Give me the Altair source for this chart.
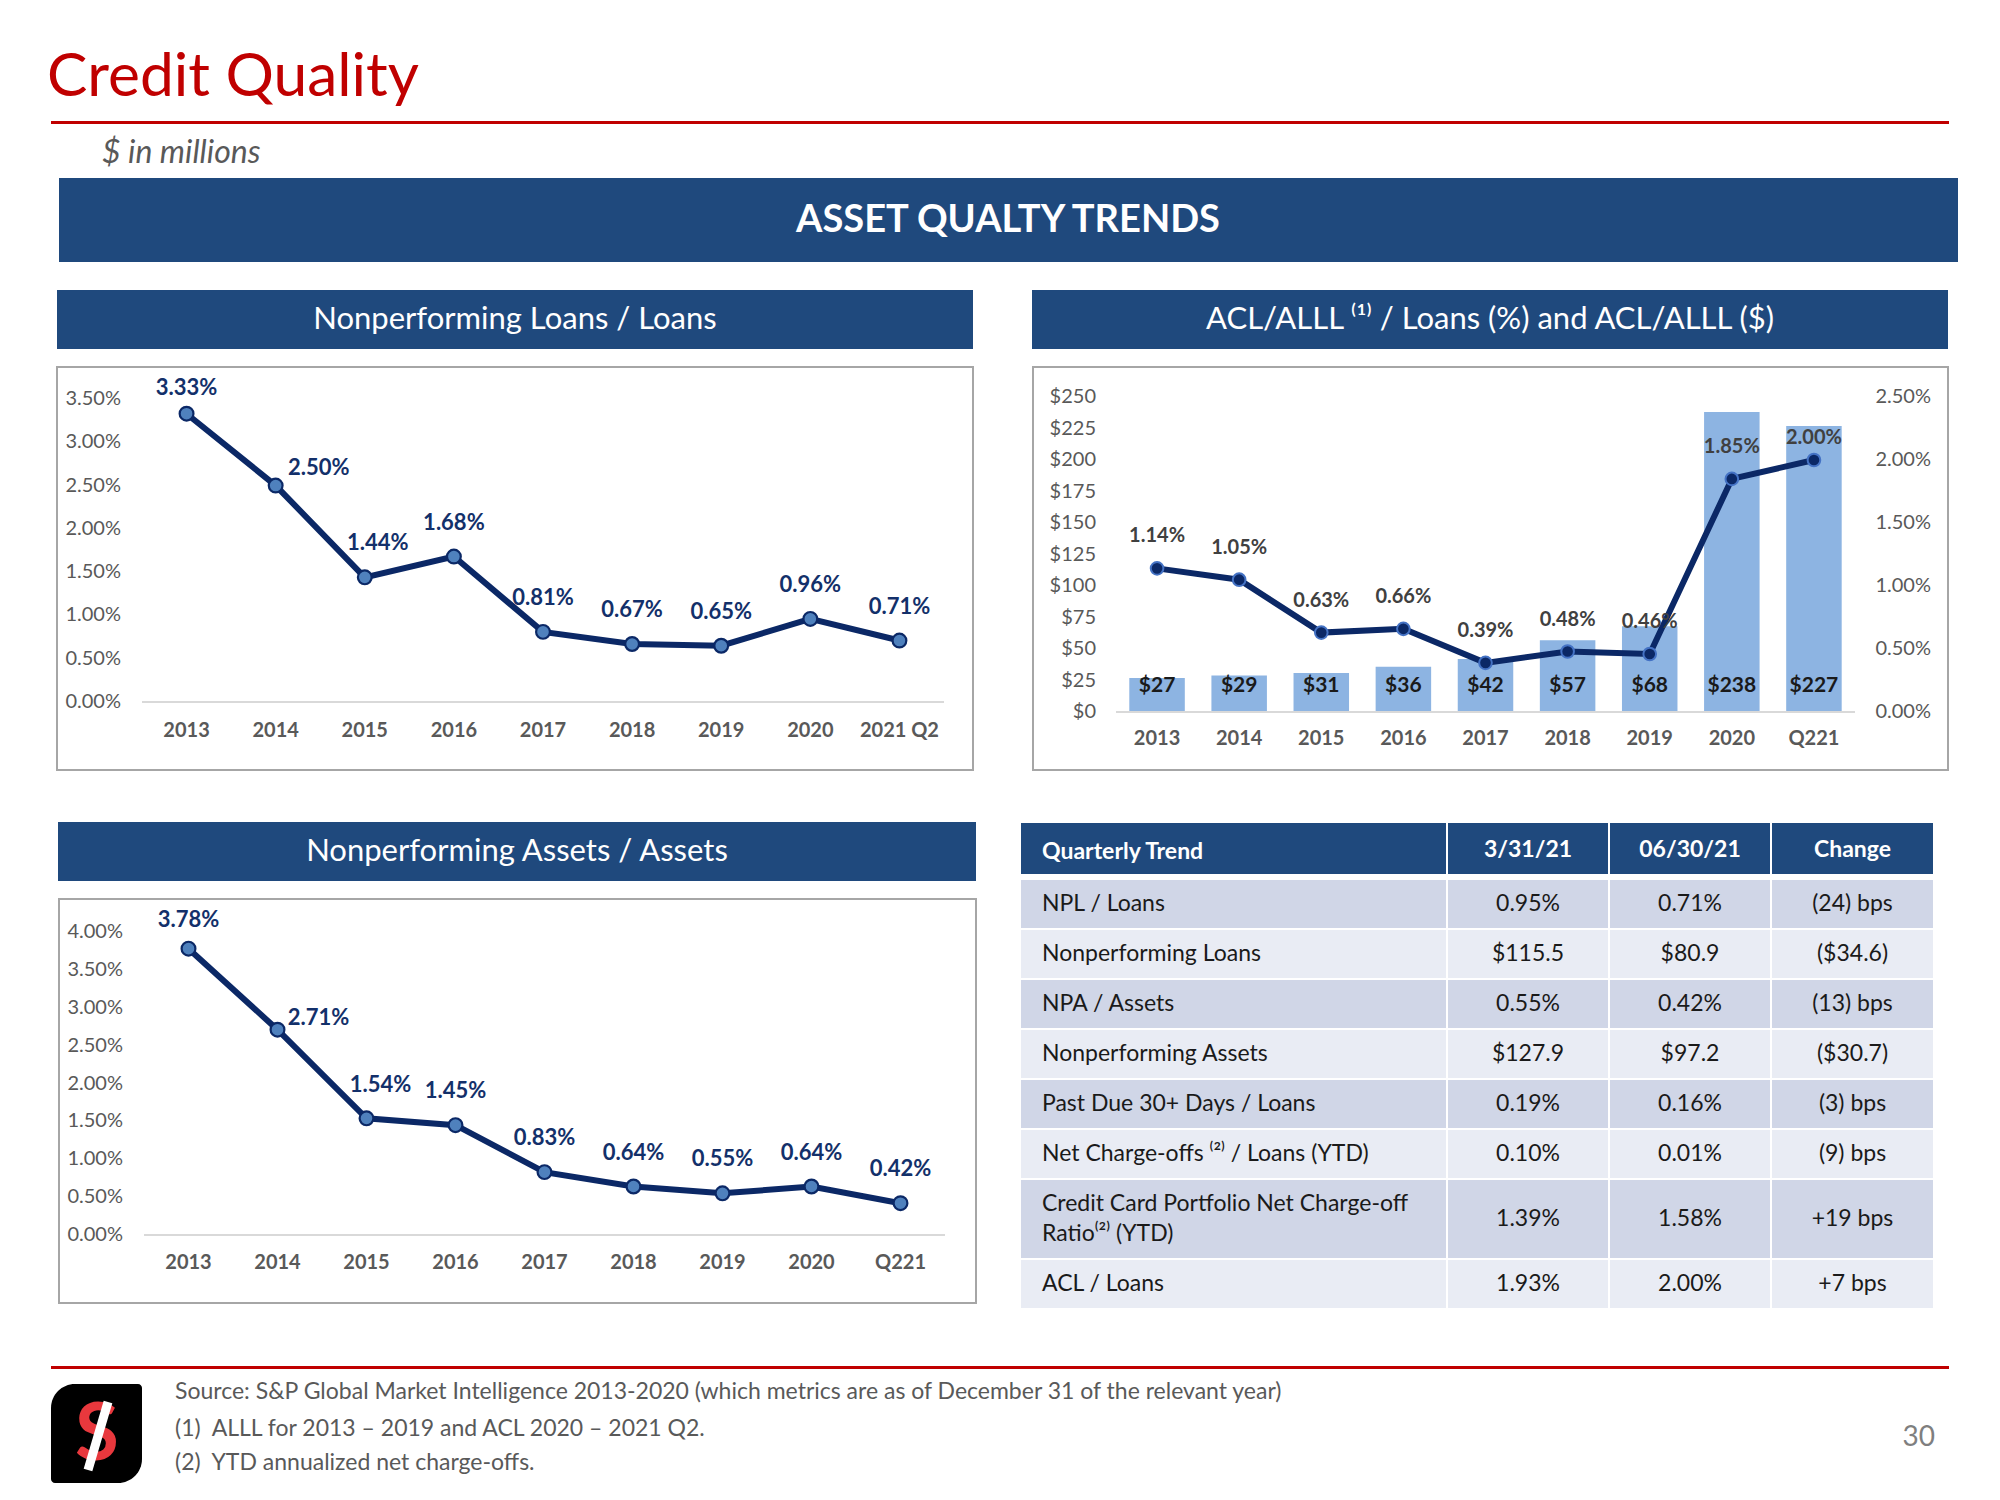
import altair as alt
import pandas as pd

# ---------------- data ----------------
npl_cats = ["2013", "2014", "2015", "2016", "2017", "2018", "2019", "2020", "2021 Q2"]
npl_vals = [3.33, 2.50, 1.44, 1.68, 0.81, 0.67, 0.65, 0.96, 0.71]
npl_ticks = [0.0, 0.5, 1.0, 1.5, 2.0, 2.5, 3.0, 3.5]

acl_cats = ["2013", "2014", "2015", "2016", "2017", "2018", "2019", "2020", "Q221"]
acl_dollars = [27, 29, 31, 36, 42, 57, 68, 238, 227]
acl_pct = [1.14, 1.05, 0.63, 0.66, 0.39, 0.48, 0.46, 1.85, 2.00]
acl_dollar_ticks = [0, 25, 50, 75, 100, 125, 150, 175, 200, 225, 250]
acl_pct_ticks = [0.0, 0.5, 1.0, 1.5, 2.0, 2.5]

npa_cats = ["2013", "2014", "2015", "2016", "2017", "2018", "2019", "2020", "Q221"]
npa_vals = [3.78, 2.71, 1.54, 1.45, 0.83, 0.64, 0.55, 0.64, 0.42]
npa_ticks = [0.0, 0.5, 1.0, 1.5, 2.0, 2.5, 3.0, 3.5, 4.0]

tbl_header = ["Quarterly Trend", "3/31/21", "06/30/21", "Change"]
tbl_labels = ["NPL / Loans", "Nonperforming Loans", "NPA / Assets", "Nonperforming Assets",
              "Past Due 30+ Days / Loans", "Net Charge-offs \u207d\u00b2\u207e / Loans (YTD)",
              "Credit Card Portfolio Net Charge-off\nRatio\u207d\u00b2\u207e (YTD)", "ACL / Loans"]
tbl_q1 = ["0.95%", "$115.5", "0.55%", "$127.9", "0.19%", "0.10%", "1.39%", "1.93%"]
tbl_q2 = ["0.71%", "$80.9", "0.42%", "$97.2", "0.16%", "0.01%", "1.58%", "2.00%"]
tbl_chg = ["(24) bps", "($34.6)", "(13) bps", "($30.7)", "(3) bps", "(9) bps", "+19 bps", "+7 bps"]

footnotes = ["Source: S&P Global Market Intelligence 2013-2020 (which metrics are as of December 31 of the relevant year)",
             "(1)\u00a0 ALLL for 2013 \u2013 2019 and ACL 2020 \u2013 2021 Q2.",
             "(2)\u00a0 YTD annualized net charge-offs."]

# ---------------- styling / layout ----------------
M = 8


def P(v):
    return v - M


FONT = "Lato"
NAVY = "#0B2866"
BANNER = "#1F497D"
GRAY = "#595959"
RED = "#C00000"
one = alt.Data(values=[{"k": 1}])
layers = []


def text(x, y, s, size, color, weight="normal", style="normal", align="left", baseline="middle"):
    return alt.Chart(one).mark_text(text=s, fontSize=size, color=color, fontWeight=weight,
                                    fontStyle=style, align=align, baseline=baseline,
                                    font=FONT).encode(x=alt.value(P(x)), y=alt.value(P(y)))


def rect(x0, y0, x1, y1, **kw):
    return alt.Chart(one).mark_rect(**kw).encode(
        x=alt.value(P(x0)), x2=alt.value(P(x1)), y=alt.value(P(y0)), y2=alt.value(P(y1)))


def pct(v):
    return f"{v:.2f}%"


# ---------------- header ----------------
layers.append(text(47, 96, "Credit Quality", 60.5, RED, baseline="alphabetic"))
layers.append(rect(51, 121, 1949, 124, color=RED))
layers.append(text(102, 163, "$ in millions", 32, GRAY, style="italic", baseline="alphabetic"))
layers.append(rect(59, 178, 1958, 262, color=BANNER))
layers.append(text(1008, 221, "ASSET QUALTY TRENDS", 38, "white", weight="bold", align="center"))

# panel banners & boxes
layers.append(rect(57, 290, 973, 349, color=BANNER))
layers.append(text(515, 320, "Nonperforming Loans / Loans", 31, "white", align="center"))
layers.append(rect(1032, 290, 1948, 349, color=BANNER))
layers.append(text(1490, 320, "ACL/ALLL \u207d\u00b9\u207e / Loans (%) and ACL/ALLL ($)", 31, "white", align="center"))
layers.append(rect(58, 822, 976, 881, color=BANNER))
layers.append(text(517, 852, "Nonperforming Assets / Assets", 31, "white", align="center"))

for (x0, y0, x1, y1) in [(57, 367, 973, 770), (1033, 367, 1948, 770), (59, 899, 976, 1303)]:
    layers.append(rect(x0, y0, x1, y1, filled=False, stroke="#A6A6A6", strokeWidth=2))


# ---------------- line panels ----------------
def line_panel(cats, vals, ticks, x0, x1, y_bot, y_top, ymax, tick_x, cat_y, offsets, default_off):
    df = pd.DataFrame({"cat": cats, "v": vals, "lab": [pct(v) for v in vals]})
    xs = alt.Scale(type="point", domain=cats, range=[P(x0), P(x1)], padding=0.5)
    ys = alt.Scale(domain=[0, ymax], range=[P(y_bot), P(y_top)], nice=False, zero=True)
    X = alt.X("cat:N", scale=xs, axis=None)
    Y = alt.Y("v:Q", scale=ys, axis=None)
    out = []
    out.append(alt.Chart(one).mark_rule(color="#D9D9D9", strokeWidth=2).encode(
        y=alt.Y(datum=0, type="quantitative", scale=ys, axis=None),
        x=alt.value(P(x0)), x2=alt.value(P(x1))))
    tdf = pd.DataFrame({"t": ticks, "lab": [pct(t) for t in ticks]})
    out.append(alt.Chart(tdf).mark_text(align="right", baseline="middle", fontSize=20,
                                        color=GRAY, font=FONT).encode(
        y=alt.Y("t:Q", scale=ys, axis=None), x=alt.value(P(tick_x)), text="lab:N"))
    out.append(alt.Chart(df).mark_text(baseline="middle", fontSize=20, fontWeight="bold",
                                       color=GRAY, font=FONT).encode(
        x=X, y=alt.value(P(cat_y)), text="cat:N"))
    out.append(alt.Chart(df).mark_line(color=NAVY, strokeWidth=6).encode(x=X, y=Y))
    out.append(alt.Chart(df).mark_point(shape="circle", filled=True, fill="#4F81BD", stroke=NAVY,
                                        strokeWidth=2.2, size=190, opacity=1).encode(x=X, y=Y))
    groups = {}
    for c in cats:
        groups.setdefault(offsets.get(c, default_off), []).append(c)
    for (dx, dy), cl in groups.items():
        out.append(alt.Chart(df).transform_filter(
            alt.FieldOneOfPredicate(field="cat", oneOf=cl)).mark_text(
            dx=dx, dy=dy, baseline="middle", fontSize=22, fontWeight="bold",
            color="#13306A", font=FONT).encode(x=X, y=Y, text="lab:N"))
    return out


layers += line_panel(npl_cats, npl_vals, npl_ticks, 142, 944, 702, 399, 3.5, 121, 731,
                     {"2013": (0, -26), "2014": (43, -18), "2015": (13, -34)}, (0, -34))
layers += line_panel(npa_cats, npa_vals, npa_ticks, 144, 945, 1235, 932, 4.0, 123, 1263,
                     {"2013": (0, -29), "2014": (41, -12), "2015": (14, -33)}, (0, -34))

# ---------------- ACL panel (bars + line, dual axis) ----------------
adf = pd.DataFrame({"cat": acl_cats, "d": acl_dollars, "p": acl_pct,
                    "dlab": [f"${v}" for v in acl_dollars], "plab": [pct(v) for v in acl_pct]})
ax0, ax1 = 1116, 1855
a_bot, a_top = 712, 397
bx = alt.Scale(type="band", domain=acl_cats, range=[P(ax0), P(ax1)], paddingInner=0.324, paddingOuter=0.162)
px_ = alt.Scale(type="point", domain=acl_cats, range=[P(ax0), P(ax1)], padding=0.5)
dys = alt.Scale(domain=[0, 250], range=[P(a_bot), P(a_top)], nice=False, zero=True)
pys = alt.Scale(domain=[0, 2.5], range=[P(a_bot), P(a_top)], nice=False, zero=True)
XP = alt.X("cat:N", scale=px_, axis=None)

layers.append(alt.Chart(adf).mark_bar(color="#8DB4E2").encode(
    x=alt.X("cat:N", scale=bx, axis=None), y=alt.Y("d:Q", scale=dys, axis=None)))
layers.append(alt.Chart(one).mark_rule(color="#D9D9D9", strokeWidth=2).encode(
    y=alt.Y(datum=0, type="quantitative", scale=dys, axis=None),
    x=alt.value(P(ax0)), x2=alt.value(P(ax1))))
dtdf = pd.DataFrame({"t": acl_dollar_ticks, "lab": [f"${t}" for t in acl_dollar_ticks]})
layers.append(alt.Chart(dtdf).mark_text(align="right", baseline="middle", fontSize=20, color=GRAY,
                                        font=FONT).encode(
    y=alt.Y("t:Q", scale=dys, axis=None), x=alt.value(P(1096)), text="lab:N"))
ptdf = pd.DataFrame({"t": acl_pct_ticks, "lab": [pct(t) for t in acl_pct_ticks]})
layers.append(alt.Chart(ptdf).mark_text(align="right", baseline="middle", fontSize=20, color=GRAY,
                                        font=FONT).encode(
    y=alt.Y("t:Q", scale=pys, axis=None), x=alt.value(P(1931)), text="lab:N"))
layers.append(alt.Chart(adf).mark_text(baseline="middle", fontSize=20, fontWeight="bold", color=GRAY,
                                       font=FONT).encode(x=XP, y=alt.value(P(739)), text="cat:N"))
layers.append(alt.Chart(adf).mark_text(baseline="middle", dy=-26, fontSize=21, fontWeight="bold",
                                       color="#1A1A1A", font=FONT).encode(
    x=XP, y=alt.Y(datum=0, type="quantitative", scale=dys, axis=None), text="dlab:N"))
layers.append(alt.Chart(adf).mark_line(color=NAVY, strokeWidth=6).encode(
    x=XP, y=alt.Y("p:Q", scale=pys, axis=None)))
layers.append(alt.Chart(adf).mark_point(shape="circle", filled=True, fill=NAVY, stroke="#4472C4",
                                        strokeWidth=2, size=160, opacity=1).encode(
    x=XP, y=alt.Y("p:Q", scale=pys, axis=None)))
for cl, dy in [(acl_cats[:-1], -32), (acl_cats[-1:], -22)]:
    layers.append(alt.Chart(adf).transform_filter(alt.FieldOneOfPredicate(field="cat", oneOf=cl)).mark_text(
        baseline="middle", dy=dy, fontSize=20, fontWeight="bold", color="#404040", font=FONT).encode(
        x=XP, y=alt.Y("p:Q", scale=pys, axis=None), text="plab:N"))

# ---------------- table ----------------
col_edges = [1020, 1447, 1609, 1771, 1934]
row_units = [1, 1, 1, 1, 1, 1, 1.6, 1]
tops, acc = [], 0.0
for u in row_units:
    tops.append(acc)
    acc += u
tdf = pd.DataFrame({
    "label": tbl_labels, "q1": tbl_q1, "q2": tbl_q2, "chg": tbl_chg,
    "top": tops, "bot": [t + u for t, u in zip(tops, row_units)],
    "mid": [t + u / 2 for t, u in zip(tops, row_units)],
    "nl": [s.count("\n") + 1 for s in tbl_labels],
    "shade": ["a" if i % 2 == 0 else "b" for i in range(len(tbl_labels))],
})
rys = alt.Scale(domain=[0, acc], range=[P(879), P(879 + 50 * acc)], nice=False, zero=False)
shade_scale = alt.Scale(domain=["a", "b"], range=["#D0D6E7", "#E9ECF4"])
for i in range(4):
    layers.append(alt.Chart(tdf).mark_rect(stroke="white", strokeWidth=2).encode(
        x=alt.value(P(col_edges[i])), x2=alt.value(P(col_edges[i + 1])),
        y=alt.Y("top:Q", scale=rys, axis=None), y2="bot:Q",
        color=alt.Color("shade:N", scale=shade_scale, legend=None)))
    layers.append(rect(col_edges[i], 822, col_edges[i + 1], 875, color=BANNER, stroke="white", strokeWidth=2))

layers.append(text(1042, 852, tbl_header[0], 23, "white", weight="bold"))
for i in range(1, 4):
    layers.append(text((col_edges[i] + col_edges[i + 1]) / 2, 850, tbl_header[i], 23, "white",
                       weight="bold", align="center"))
for nl, dy in [(1, 0), (2, -15)]:
    layers.append(alt.Chart(tdf).transform_filter(alt.datum.nl == nl).mark_text(
        align="left", baseline="middle", fontSize=23, color="#1A1A1A", dy=dy,
        font=FONT, lineBreak="\n", lineHeight=30).encode(
        x=alt.value(P(1042)), y=alt.Y("mid:Q", scale=rys, axis=None), text="label:N"))
for i, f in zip(range(1, 4), ["q1", "q2", "chg"]):
    layers.append(alt.Chart(tdf).mark_text(align="center", baseline="middle", fontSize=23, color="#1A1A1A",
                                           font=FONT).encode(
        x=alt.value(P((col_edges[i] + col_edges[i + 1]) / 2)),
        y=alt.Y("mid:Q", scale=rys, axis=None), text=f"{f}:N"))

# ---------------- footer ----------------
layers.append(rect(51, 1366, 1949, 1369, color=RED))
layers.append(alt.Chart(one).mark_rect(color="black", cornerRadiusTopLeft=24, cornerRadiusBottomRight=24,
                                       cornerRadiusTopRight=4, cornerRadiusBottomLeft=4).encode(
    x=alt.value(P(51)), x2=alt.value(P(142)), y=alt.value(P(1384)), y2=alt.value(P(1483))))
layers.append(text(97, 1436, "S", 80, "#E8383D", weight="bold", align="center"))
layers.append(alt.Chart(one).mark_rule(color="white", strokeWidth=9).encode(
    x=alt.value(P(108)), y=alt.value(P(1402)), x2=alt.value(P(88)), y2=alt.value(P(1470))))
for s, yy in zip(footnotes, [1392, 1429, 1463]):
    layers.append(text(175, yy, s, 23, GRAY))
layers.append(text(1935, 1438, "30", 28, "#7F7F7F", align="right"))

chart = alt.layer(*layers).resolve_scale(x="independent", y="independent", color="independent").properties(
    width=1984, height=1484, padding=0, autosize="none", background="white"
).configure_view(strokeWidth=0)

chart.save("out.html", embed_options={"renderer": "svg", "actions": False})
